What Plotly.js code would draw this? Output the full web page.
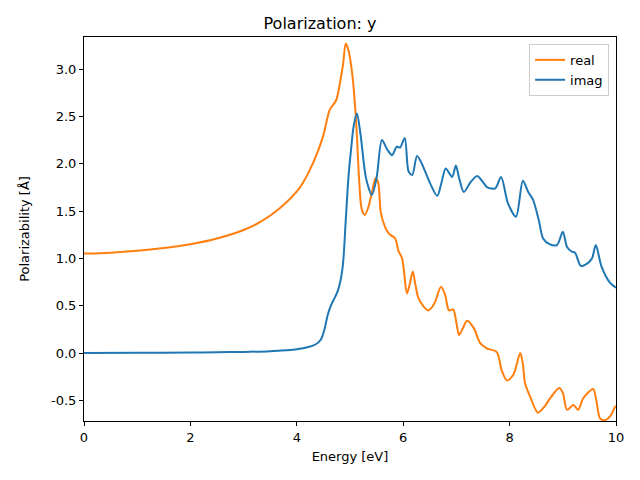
<!DOCTYPE html>
<html>
<head>
<meta charset="utf-8">
<script src="https://cdn.plot.ly/plotly-3.0.1.min.js"></script>
<style>html,body{margin:0;padding:0;background:#fff;}#chart{width:640px;height:480px;}</style>
</head>
<body>
<div id="chart"></div>
<script>
const realE = [0, 0.5, 1, 1.5, 2, 2.5, 3, 3.3, 3.68, 4.06, 4.3, 4.49, 4.62, 4.74, 4.81, 4.87, 4.92, 4.97, 5.04, 5.11, 5.17, 5.22, 5.28, 5.35, 5.42, 5.48, 5.53, 5.58, 5.66, 5.72, 5.78, 5.85, 5.91, 5.98, 6.07, 6.12, 6.18, 6.23, 6.28, 6.37, 6.47, 6.55, 6.6, 6.71, 6.79, 6.86, 6.94, 7.0, 7.05, 7.12, 7.20, 7.33, 7.44, 7.57, 7.76, 7.85, 7.95, 8.07, 8.2, 8.25, 8.29, 8.4, 8.53, 8.65, 8.76, 8.93, 9.0, 9.08, 9.2, 9.29, 9.38, 9.57, 9.63, 9.70, 9.79, 9.9, 9.98, 10.0];
const realV = [1.05, 1.06, 1.08, 1.11, 1.15, 1.21, 1.30, 1.38, 1.53, 1.75, 2.0, 2.28, 2.57, 2.67, 2.85, 3.05, 3.27, 3.20, 2.96, 2.49, 1.85, 1.52, 1.46, 1.55, 1.72, 1.85, 1.80, 1.48, 1.33, 1.27, 1.24, 1.21, 1.08, 1.0, 0.63, 0.72, 0.86, 0.72, 0.59, 0.50, 0.45, 0.49, 0.54, 0.70, 0.61, 0.45, 0.46, 0.32, 0.19, 0.26, 0.34, 0.26, 0.11, 0.05, 0.01, -0.18, -0.29, -0.23, 0.0, -0.12, -0.32, -0.48, -0.63, -0.57, -0.48, -0.37, -0.42, -0.6, -0.55, -0.6, -0.48, -0.38, -0.5, -0.69, -0.71, -0.66, -0.57, -0.56];

const imagE = [0, 1, 2, 2.5, 3, 3.5, 3.8, 4, 4.2, 4.35, 4.45, 4.52, 4.58, 4.64, 4.7, 4.76, 4.82, 4.87, 4.92, 4.97, 5.02, 5.07, 5.13, 5.2, 5.3, 5.41, 5.5, 5.6, 5.7, 5.79, 5.88, 5.94, 6.03, 6.1, 6.17, 6.26, 6.35, 6.5, 6.64, 6.72, 6.8, 6.92, 6.99, 7.05, 7.14, 7.26, 7.39, 7.48, 7.58, 7.73, 7.84, 7.97, 8.12, 8.25, 8.35, 8.44, 8.55, 8.63, 8.75, 8.89, 9.0, 9.08, 9.17, 9.23, 9.34, 9.47, 9.55, 9.62, 9.73, 9.89, 10.0];
const imagV = [0.0, 0.002, 0.005, 0.008, 0.012, 0.02, 0.03, 0.04, 0.06, 0.09, 0.14, 0.25, 0.40, 0.50, 0.57, 0.64, 0.76, 0.95, 1.4, 1.85, 2.15, 2.4, 2.53, 2.3, 1.85, 1.67, 1.85, 2.25, 2.15, 2.09, 2.18, 2.17, 2.27, 1.92, 1.88, 2.08, 2.0, 1.8, 1.66, 1.8, 1.95, 1.86, 1.98, 1.85, 1.70, 1.80, 1.87, 1.82, 1.75, 1.74, 1.86, 1.58, 1.44, 1.82, 1.70, 1.62, 1.40, 1.21, 1.15, 1.14, 1.28, 1.12, 1.07, 1.06, 0.92, 0.95, 1.0, 1.14, 0.91, 0.74, 0.69];

const xTicks = [0, 2, 4, 6, 8, 10];
const yTicks = [-0.5, 0.0, 0.5, 1.0, 1.5, 2.0, 2.5, 3.0];

const traces = [
  {x: realE, y: realV, name: 'real', mode: 'lines', line: {color: '#ff7f0e', width: 2, shape: 'spline', smoothing: 0.8}},
  {x: imagE, y: imagV, name: 'imag', mode: 'lines', line: {color: '#1f77b4', width: 2, shape: 'spline', smoothing: 0.8}}
];

const axisCommon = {
  showline: true, linecolor: '#000', linewidth: 1, mirror: true,
  ticks: 'outside', ticklen: 4, tickwidth: 1, tickcolor: '#000',
  showgrid: false, zeroline: false,
  tickfont: {family: 'DejaVu Sans', size: 13, color: '#000'}
};

const layout = {
  width: 640, height: 480,
  margin: {l: 84, r: 24, t: 37, b: 59},
  paper_bgcolor: '#fff', plot_bgcolor: '#fff',
  font: {family: 'DejaVu Sans', color: '#000'},
  title: {text: 'Polarization: y', font: {family: 'DejaVu Sans', size: 16, color: '#000'}, x: 0.5, xanchor: 'center', y: 0.952, yanchor: 'middle'},
  xaxis: Object.assign({}, axisCommon, {range: [0, 10], tickvals: xTicks, ticktext: xTicks.map(String),
    title: {text: 'Energy [eV]', font: {family: 'DejaVu Sans', size: 13, color: '#000'}, standoff: 8}}),
  yaxis: Object.assign({}, axisCommon, {range: [-0.718, 3.338], tickvals: yTicks, ticktext: yTicks.map(v => v.toFixed(1)),
    title: {text: 'Polarizability [Å]', font: {family: 'DejaVu Sans', size: 13, color: '#000'}, standoff: 18}}),
  legend: {x: 0.987, xanchor: 'right', y: 0.982, yanchor: 'top', bgcolor: 'rgba(255,255,255,0.8)', bordercolor: '#cccccc', borderwidth: 1,
    font: {family: 'DejaVu Sans', size: 13, color: '#000'}, tracegroupgap: 0, itemwidth: 30}
};

Plotly.newPlot('chart', traces, layout, {displayModeBar: false, staticPlot: true});
</script>
</body>
</html>
